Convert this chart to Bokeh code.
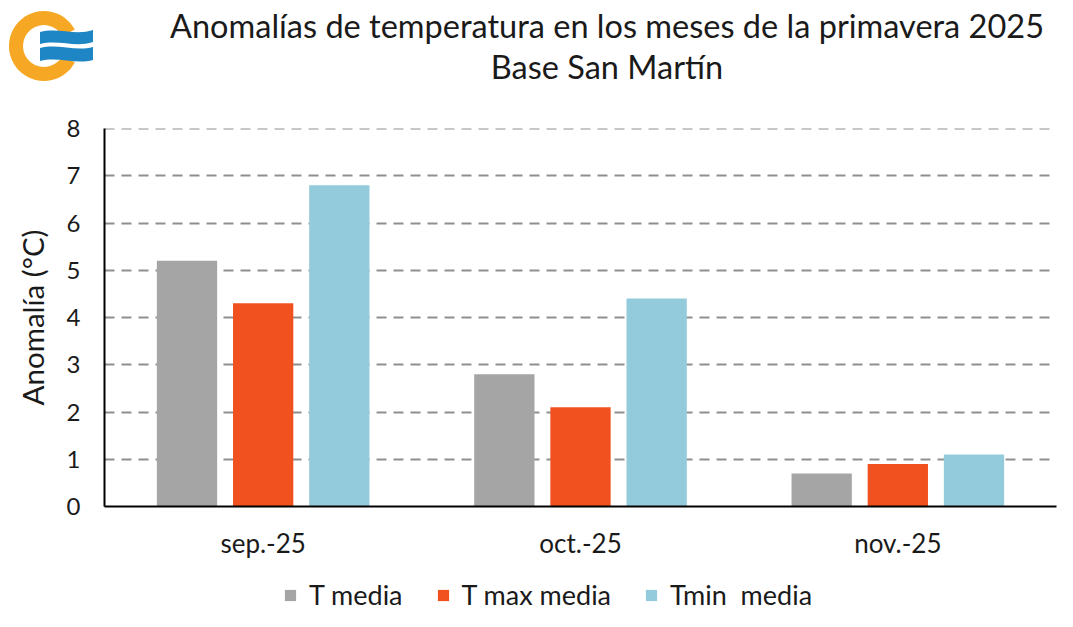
from bokeh.plotting import figure
from bokeh.layouts import column
from bokeh.models import (FactorRange, Legend, LegendItem, Range1d, Div,
                          SingleIntervalTicker, ColumnDataSource)
from bokeh.transform import dodge
from bokeh.embed import file_html
from bokeh.resources import INLINE

months = ["sep.-25", "oct.-25", "nov.-25"]
t_media = [5.2, 2.8, 0.7]
t_max_media = [4.3, 2.1, 0.9]
t_min_media = [6.8, 4.4, 1.1]
series_names = ["T media", "T max media", "Tmin  media"]
colors = ["#A5A5A5", "#F0511F", "#94CBDC"]
title_lines = ["Anomalías de temperatura en los meses de la primavera 2025", "Base San Martín"]
y_label = "Anomalía (°C)"

FONT = "Lato"
TXT = "#1a1a1a"
W = 1057

# ---------------- header: logo + title ----------------
HH = 100
logo_svg = (
    '<svg width="100" height="100" style="position:absolute;left:0;top:0">'
    '<path d="M74.9,29.6 A35,35 0 1 0 74.9,62.4 L62.5,55.9 A21,21 0 1 1 62.5,36.1 Z" fill="#F6A723"/>'
    '<path d="M40,32 C58,27 75,36 93,30 L93,42 C75,48 58,39 40,44 Z" fill="#1F86C6"/>'
    '<path d="M40,48 C58,43 75,52 93,47 L93,60 C75,65 58,56 40,61 Z" fill="#1F86C6"/>'
    '</svg>'
)
line_style = ("position:absolute;left:157px;width:900px;text-align:center;white-space:nowrap;"
              f"font-family:{FONT};font-size:32.5px;line-height:40px;color:{TXT};")
header_html = (
    f'<div style="position:relative;width:{W}px;height:{HH}px;">'
    + logo_svg
    + f'<div style="{line_style}top:6px;">{title_lines[0]}</div>'
    + f'<div style="{line_style}top:47px;">{title_lines[1]}</div>'
    + '</div>'
)
header = Div(text=header_html, width=W, height=HH, margin=0)

# ---------------- main chart ----------------
src = ColumnDataSource(dict(month=months, a=t_media, b=t_max_media, c=t_min_media))

FH = 36
MH = 611 - HH - FH
p = figure(x_range=FactorRange(*months), y_range=Range1d(0, 8.0001), width=W, height=MH,
           output_backend="svg", toolbar_location=None,
           min_border_left=104, min_border_right=1, min_border_top=28,
           min_border_bottom=MH - 28 - 378)
p.title.visible = False
p.outline_line_color = None

offsets = [-0.24, 0.0, 0.24]
renderers = []
for key, off, col in zip(["a", "b", "c"], offsets, colors):
    r = p.vbar(x=dodge("month", off, range=p.x_range), top=key, width=0.19, source=src,
               fill_color=col, line_color=None)
    renderers.append(r)

p.yaxis.ticker = SingleIntervalTicker(interval=1)
p.ygrid.ticker = SingleIntervalTicker(interval=1)
p.xgrid.grid_line_color = None
p.ygrid.grid_line_color = "#8f8f8f"
p.ygrid.grid_line_width = 2
p.ygrid.grid_line_dash = "10 7"

for ax in (p.xaxis[0], p.yaxis[0]):
    ax.axis_line_color = "#000000"
    ax.axis_line_width = 2
    ax.major_tick_line_color = None
    ax.minor_tick_line_color = None
    ax.major_tick_out = 0
    ax.major_tick_in = 0
    ax.minor_tick_out = 0
    ax.major_label_text_font = FONT
    ax.major_label_text_color = TXT

p.yaxis.major_label_text_font_size = "24px"
p.yaxis.major_label_standoff = 24
p.yaxis.axis_label = y_label
p.yaxis.axis_label_text_font = FONT
p.yaxis.axis_label_text_font_size = "29.5px"
p.yaxis.axis_label_text_font_style = "normal"
p.yaxis.axis_label_text_color = TXT
p.yaxis.axis_label_standoff = 14

p.xaxis.major_label_text_font_size = "26px"
p.xaxis.major_label_standoff = 20

# ---------------- footer: legend ----------------
ft = figure(width=W, height=FH, x_range=Range1d(0, 1), y_range=Range1d(0, 1),
            output_backend="svg", toolbar_location=None,
            x_axis_location=None, y_axis_location=None, min_border=0)
ft.title.visible = False
ft.outline_line_color = None
ft.xgrid.visible = False
ft.ygrid.visible = False
# zero-height legend proxies (nothing visible is drawn by them)
proxies = [ft.vbar(x=[0.5], top=[0], bottom=[0], width=0.01, fill_color=col, line_color=None)
           for col in colors]
items = [LegendItem(label=n, renderers=[r]) for n, r in zip(series_names, proxies)]
legend = Legend(items=items, location=(179, 0), orientation="horizontal",
                glyph_width=14, glyph_height=14, label_text_font=FONT,
                label_text_font_size="27px", label_text_color=TXT, spacing=33,
                label_standoff=12, border_line_color=None, background_fill_alpha=0,
                padding=0, margin=0)
ft.add_layout(legend)

layout = column(header, p, ft, spacing=0)
open("out.html", "w").write(file_html(layout, INLINE))
